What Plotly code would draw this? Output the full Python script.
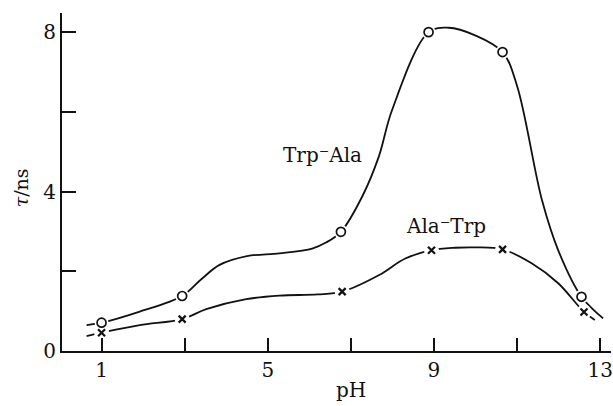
import plotly.graph_objects as go

# Trp-Ala (open circles) curve trace and measured points
trp_ala_curve_x = [0.64, 1.0, 1.92, 2.94, 3.4, 3.84, 4.5, 5.28, 6.07, 6.4, 6.76, 7.27, 7.67, 7.99,
                   8.87, 9.35, 9.99, 10.65, 11.0, 11.6, 12.0, 12.55, 13.07]
trp_ala_curve_y = [0.65, 0.71, 0.99, 1.38, 1.8, 2.16, 2.38, 2.45, 2.57, 2.72, 2.99, 3.87, 4.87, 6.04,
                   8.0, 8.11, 7.92, 7.5, 6.65, 3.78, 2.5, 1.36, 0.82]
trp_ala_pts_x = [1.0, 2.94, 6.76, 8.87, 10.65, 12.55]
trp_ala_pts_y = [0.71, 1.38, 2.99, 8.0, 7.5, 1.36]

# Ala-Trp (crosses) curve trace and measured points
ala_trp_curve_x = [0.64, 1.0, 1.92, 2.94, 3.52, 4.48, 5.28, 6.2, 6.79, 7.67, 8.31, 8.94, 9.51,
                   10.0, 10.65, 11.35, 11.99, 12.61, 12.87]
ala_trp_curve_y = [0.376, 0.46, 0.65, 0.80, 1.05, 1.3, 1.39, 1.42, 1.49, 1.9, 2.32, 2.53, 2.59,
                   2.6, 2.55, 2.2, 1.7, 0.98, 0.78]
ala_trp_pts_x = [1.0, 2.94, 6.79, 8.94, 10.65, 12.61]
ala_trp_pts_y = [0.46, 0.80, 1.49, 2.53, 2.55, 0.98]

x_tickvals = [1, 3, 5, 7, 9, 11, 13]
x_ticktext = ["1", "", "5", "", "9", "", "13"]
y_tickvals = [0, 2, 4, 6, 8]
y_ticktext = ["0", "", "4", "", "8"]

INK = "#111111"
FONT = "DejaVu Serif"

fig = go.Figure()
for cx, cy in [(trp_ala_curve_x, trp_ala_curve_y), (ala_trp_curve_x, ala_trp_curve_y)]:
    fig.add_trace(go.Scatter(x=cx, y=cy, mode="lines",
                             line=dict(color=INK, width=1.8, shape="spline", smoothing=1.0),
                             hoverinfo="skip", showlegend=False))
# white halos to break the curve around the markers
fig.add_trace(go.Scatter(x=trp_ala_pts_x, y=trp_ala_pts_y, mode="markers",
                         marker=dict(symbol="circle", size=14, color="white", line=dict(width=0)),
                         showlegend=False, hoverinfo="skip"))
fig.add_trace(go.Scatter(x=ala_trp_pts_x, y=ala_trp_pts_y, mode="markers",
                         marker=dict(symbol="circle", size=15, color="white", line=dict(width=0)),
                         showlegend=False, hoverinfo="skip"))
fig.add_trace(go.Scatter(x=trp_ala_pts_x, y=trp_ala_pts_y, mode="markers", name="Trp-Ala",
                         marker=dict(symbol="circle", size=9, color="white", line=dict(color=INK, width=1.7)),
                         showlegend=False))
fig.add_trace(go.Scatter(x=ala_trp_pts_x, y=ala_trp_pts_y, mode="markers", name="Ala-Trp",
                         marker=dict(symbol="x-thin", size=7, color=INK, line=dict(color=INK, width=2.2)),
                         showlegend=False))

fig.add_annotation(x=6.31, y=4.91, xref="x", yref="y", text="Trp\u207bAla", showarrow=False,
                   font=dict(family=FONT, size=20, color=INK))
fig.add_annotation(x=9.30, y=3.13, xref="x", yref="y", text="Ala\u207bTrp", showarrow=False,
                   font=dict(family=FONT, size=20, color=INK))
fig.add_annotation(x=0.526, y=-0.115, xref="paper", yref="paper", text="pH", showarrow=False,
                   xanchor="center", yanchor="middle",
                   font=dict(family=FONT, size=20, color=INK))
fig.add_annotation(x=-0.074, y=4.09, xref="paper", yref="y", text="<i>\u03c4</i>/ns", showarrow=False,
                   xanchor="center", yanchor="middle", textangle=-90,
                   font=dict(family=FONT, size=19, color=INK))

fig.update_xaxes(range=[0.048, 13.26], tickvals=x_tickvals, ticktext=x_ticktext,
                 ticks="inside", ticklen=13, tickwidth=1.6, tickcolor=INK,
                 showline=True, linecolor=INK, linewidth=1.8, showgrid=False, zeroline=False,
                 ticklabeloverflow="allow",
                 tickfont=dict(family=FONT, size=20, color=INK))
fig.update_yaxes(range=[0, 8.48], tickvals=y_tickvals, ticktext=y_ticktext,
                 ticks="inside", ticklen=14, tickwidth=1.6, tickcolor=INK,
                 showline=True, linecolor=INK, linewidth=1.8, showgrid=False, zeroline=False,
                 tickfont=dict(family=FONT, size=20, color=INK))

fig.update_layout(width=613, height=406, margin=dict(l=62, r=0, t=13, b=55),
                  paper_bgcolor="white", plot_bgcolor="white")

fig.write_html("out.html")
